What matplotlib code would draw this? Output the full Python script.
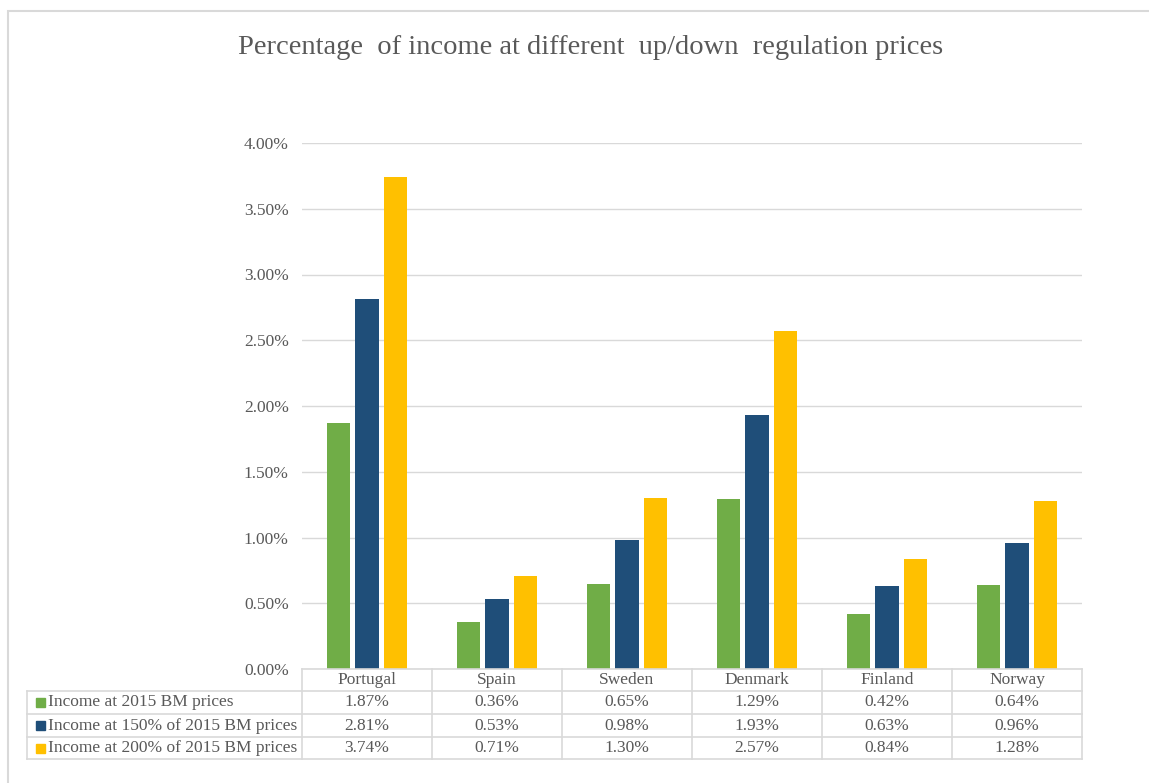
import numpy as np
import matplotlib.pyplot as plt
from matplotlib.lines import Line2D
from matplotlib.patches import Rectangle
from matplotlib.ticker import FuncFormatter

plt.rcParams['font.family'] = ['Liberation Serif', 'DejaVu Serif']

countries = ['Portugal', 'Spain', 'Sweden', 'Denmark', 'Finland', 'Norway']
series_names = ['Income at 2015 BM prices',
                'Income at 150% of 2015 BM prices',
                'Income at 200% of 2015 BM prices']
base_2015 = [1.87, 0.36, 0.65, 1.29, 0.42, 0.64]
pct_150 = [2.81, 0.53, 0.98, 1.93, 0.63, 0.96]
pct_200 = [3.74, 0.71, 1.30, 2.57, 0.84, 1.28]
series = [base_2015, pct_150, pct_200]
colors = ['#70AD47', '#1F4E79', '#FFC000']

W, H = 1149, 783
fig = plt.figure(figsize=(W / 100, H / 100), dpi=100)
txt = '#595959'
grid = '#d9d9d9'

# pixel helpers (origin top-left)
def fx(px):
    return px / W

def fy(py):
    return 1 - py / H

x0, x1 = 302, 1082
y0, ytop = 669, 143
ax = fig.add_axes([fx(x0), fy(y0), fx(x1 - x0), (y0 - ytop) / H])

x = np.arange(len(countries))
bw = 0.177
step = 0.223
for i, (vals, c) in enumerate(zip(series, colors)):
    ax.bar(x + (i - 1) * step, vals, width=bw, color=c, zorder=3)

ax.set_xlim(-0.5, len(countries) - 0.5)
ax.set_ylim(0, 4.0)
ax.set_yticks(np.arange(0, 4.01, 0.5))
ax.yaxis.set_major_formatter(FuncFormatter(lambda v, p: f'{v:.2f}%'))
ax.tick_params(axis='y', length=0, pad=9.5, labelsize=12.5, labelcolor=txt)
ax.set_xticks([])
ax.grid(axis='y', color=grid, linewidth=1, zorder=0)
for s in ax.spines.values():
    s.set_visible(False)

fig.text(fx(591), fy(47), 'Percentage  of income at different  up/down  regulation prices',
         ha='center', va='center', fontsize=20.5, color=txt)

# outer chart border
fig.add_artist(Rectangle((fx(8), fy(H + 20)), fx(W + 20), (H + 20 - 11) / H,
                         transform=fig.transFigure, fill=False, edgecolor=grid, linewidth=1.5))

# data table
rows_y = [669, 691, 714, 737, 759]
cw = (x1 - x0) / len(countries)
lab_x = 27

def hline(xa, xb, yy):
    fig.add_artist(Line2D([fx(xa), fx(xb)], [fy(yy), fy(yy)], transform=fig.transFigure,
                          color=grid, linewidth=1.2))

def vline(xx, ya, yb):
    fig.add_artist(Line2D([fx(xx), fx(xx)], [fy(ya), fy(yb)], transform=fig.transFigure,
                          color=grid, linewidth=1.2))

hline(x0, x1, rows_y[0])
for yy in rows_y[1:]:
    hline(lab_x, x1, yy)
vline(lab_x, rows_y[1], rows_y[-1])
for k in range(len(countries) + 1):
    vline(x0 + k * cw, rows_y[0], rows_y[-1])

fs = 12.5
for j, name in enumerate(countries):
    fig.text(fx(x0 + (j + 0.5) * cw), fy((rows_y[0] + rows_y[1]) / 2), name,
             ha='center', va='center', fontsize=fs, color=txt)

for i, (name, vals, c) in enumerate(zip(series_names, series, colors)):
    yc = (rows_y[i + 1] + rows_y[i + 2]) / 2
    fig.add_artist(Rectangle((fx(36), fy(yc + 4.5)), fx(9), 9 / H,
                             transform=fig.transFigure, color=c))
    fig.text(fx(48), fy(yc), name, ha='left', va='center', fontsize=fs, color=txt)
    for j, v in enumerate(vals):
        fig.text(fx(x0 + (j + 0.5) * cw), fy(yc), f'{v:.2f}%',
                 ha='center', va='center', fontsize=fs, color=txt)

fig.savefig('out.png', dpi=100)
